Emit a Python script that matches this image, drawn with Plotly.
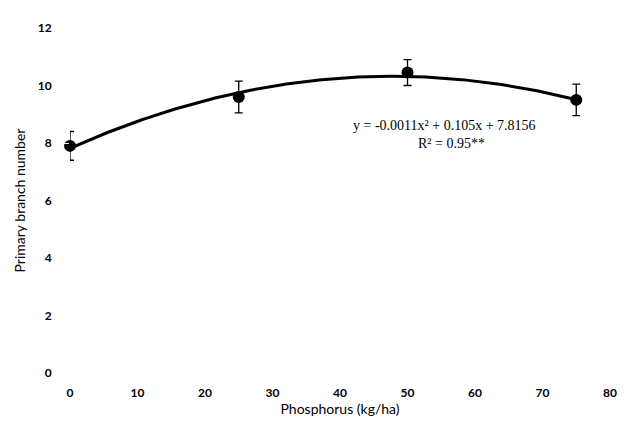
import numpy as np
import plotly.graph_objects as go

phosphorus = [0, 25, 50, 75]
branch_mean = [7.9, 9.6, 10.45, 9.5]
branch_err = [0.5, 0.55, 0.45, 0.55]
fit_coef = [-0.0011, 0.105, 7.8156]  # a, b, c of quadratic trendline
x_ticks = [0, 10, 20, 30, 40, 50, 60, 70, 80]
y_ticks = [0, 2, 4, 6, 8, 10, 12]
eq_line = "y = -0.0011x² + 0.105x + 7.8156"
r2_line = "R² = 0.95**"

xf = np.linspace(min(phosphorus), max(phosphorus), 200)
yf = fit_coef[0] * xf**2 + fit_coef[1] * xf + fit_coef[2]

fig = go.Figure()
fig.add_trace(go.Scatter(x=xf, y=yf, mode="lines", cliponaxis=False,
                         line=dict(color="black", width=3), showlegend=False,
                         hoverinfo="skip"))
fig.add_trace(go.Scatter(x=phosphorus, y=branch_mean, mode="markers", cliponaxis=False,
                         marker=dict(color="black", size=12),
                         error_y=dict(type="data", array=branch_err, visible=True,
                                      color="black", thickness=1.3, width=4),
                         showlegend=False))

eq_font = dict(family="Liberation Serif", size=14, color="black")
fig.add_annotation(x=55.5, y=8.6, text=eq_line, showarrow=False, font=eq_font,
                   xanchor="center", yanchor="middle")
fig.add_annotation(x=56.5, y=8.0, text=r2_line, showarrow=False, font=eq_font,
                   xanchor="center", yanchor="middle")

fig.update_layout(
    width=627, height=426,
    margin=dict(l=62, r=25, t=17, b=61),
    paper_bgcolor="white", plot_bgcolor="white",
    font=dict(family="Lato", color="black", size=12),
    xaxis=dict(range=[0, 80], tickvals=x_ticks, showgrid=False, zeroline=False,
               showline=False, ticks="outside", ticklen=9, tickcolor="white",
               tickfont=dict(size=12, family="Lato", weight="bold"),
               title=dict(text="Phosphorus (kg/ha)", font=dict(size=14, family="Lato"), standoff=4)),
    yaxis=dict(range=[0, 12], tickvals=y_ticks, showgrid=False, zeroline=False,
               showline=False, ticks="outside", ticklen=15, tickcolor="white",
               tickfont=dict(size=12, family="Lato", weight="bold"),
               title=dict(text="Primary branch number", font=dict(size=14, family="Lato"), standoff=8)),
)

fig.write_html("out.html")
